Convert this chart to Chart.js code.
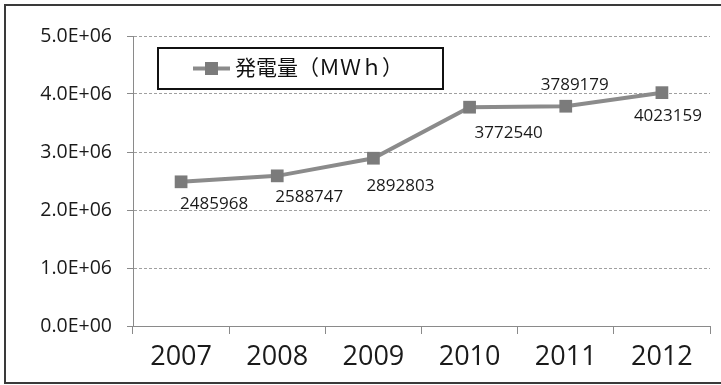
<!DOCTYPE html>
<html>
<head>
<meta charset="utf-8">
<script src="https://cdn.jsdelivr.net/npm/chart.js@4/dist/chart.umd.min.js"></script>
<style>
  html, body { margin: 0; padding: 0; background: #ffffff; }
  #wrap { width: 721px; height: 385px; }
</style>
</head>
<body>
<div id="wrap"><canvas id="c" width="721" height="385"></canvas></div>
<script>
// Annual generation (MWh)
const years = ['2007', '2008', '2009', '2010', '2011', '2012'];
const generation = [2485968, 2588747, 2892803, 3772540, 3789179, 4023159];
const seriesName = '発電量（ＭＷｈ）';
const yTicks = [0, 1000000, 2000000, 3000000, 4000000, 5000000];

const LINE = '#8b8b8b';
const MARK = '#7b7b7b';

// "5.0E+06" style exponent formatting
function sci(v) {
  const parts = Number(v).toExponential(1).split('e');
  const exp = parseInt(parts[1], 10);
  const sign = exp < 0 ? '-' : '+';
  return parts[0] + 'E' + sign + String(Math.abs(exp)).padStart(2, '0');
}

// outer frame of the figure
const framePlugin = {
  id: 'frame',
  beforeDraw(chart) {
    const ctx = chart.ctx;
    ctx.save();
    ctx.fillStyle = '#ffffff';
    ctx.fillRect(0, 0, chart.width, chart.height);
    ctx.strokeStyle = '#3a3a3a';
    ctx.lineWidth = 2;
    ctx.strokeRect(5, 5, chart.width + 20, 378);
    ctx.restore();
  }
};

// value labels next to each point, with a per-point offset
const valueLabels = {
  id: 'valueLabels',
  afterDatasetsDraw(chart, args, opts) {
    const ctx = chart.ctx;
    const meta = chart.getDatasetMeta(0);
    const values = chart.data.datasets[0].data;
    ctx.save();
    ctx.font = '17px "Open Sans", sans-serif';
    ctx.fillStyle = '#1a1a1a';
    ctx.textAlign = 'center';
    ctx.textBaseline = 'middle';
    meta.data.forEach((pt, i) => {
      const off = opts.offsets[i] || [0, 0];
      ctx.fillText(String(values[i]), pt.x + off[0], pt.y + off[1]);
    });
    ctx.restore();
  }
};

// boxed legend inside the plot area
const boxLegend = {
  id: 'boxLegend',
  afterDraw(chart, args, opts) {
    const ctx = chart.ctx;
    const ds = chart.data.datasets[0];
    const { x, y, w, h } = opts;
    ctx.save();
    ctx.fillStyle = '#ffffff';
    ctx.fillRect(x, y, w, h);
    ctx.strokeStyle = '#111111';
    ctx.lineWidth = 2;
    ctx.strokeRect(x, y, w, h);
    const cy = y + h / 2;
    ctx.strokeStyle = LINE;
    ctx.lineWidth = 4;
    ctx.beginPath();
    ctx.moveTo(x + 35, cy);
    ctx.lineTo(x + 72, cy);
    ctx.stroke();
    ctx.fillStyle = MARK;
    ctx.fillRect(x + 47, cy - 6.5, 13, 13);
    ctx.fillStyle = '#111111';
    ctx.font = '21px "DejaVu Serif", "Noto Sans CJK JP", serif';
    ctx.textAlign = 'left';
    ctx.textBaseline = 'middle';
    ctx.fillText(ds.label, x + 77, cy + 1);
    ctx.restore();
  }
};

new Chart(document.getElementById('c'), {
  type: 'line',
  data: {
    labels: years,
    datasets: [{
      label: seriesName,
      data: generation,
      borderColor: LINE,
      borderWidth: 4,
      pointStyle: 'rect',
      pointRadius: 9,
      pointHoverRadius: 9,
      pointBackgroundColor: MARK,
      pointBorderColor: MARK,
      pointBorderWidth: 0,
      tension: 0
    }]
  },
  options: {
    responsive: false,
    devicePixelRatio: 1,
    animation: false,
    layout: { padding: { top: 36, right: 11, left: 0, bottom: 0 } },
    plugins: {
      legend: { display: false },
      tooltip: { enabled: false },
      valueLabels: {
        offsets: [[33, 22], [32, 21], [27, 28], [39, 26], [9, -21], [6, 23]]
      },
      boxLegend: { x: 158, y: 48, w: 285, h: 41 }
    },
    scales: {
      x: {
        offset: true,
        afterFit(s) { s.height = 59; },
        grid: {
          display: true,
          offset: true,
          drawOnChartArea: false,
          drawTicks: true,
          tickLength: 8,
          tickColor: '#8a8a8a',
          tickWidth: 1
        },
        border: { display: true, color: '#8a8a8a', width: 1 },
        ticks: {
          color: '#1a1a1a',
          font: { family: '"Open Sans", sans-serif', size: 27 },
          padding: 7,
          maxRotation: 0
        }
      },
      y: {
        min: 0,
        max: 5000000,
        afterFit(s) { s.width = 133; },
        afterBuildTicks(s) { s.ticks = yTicks.map(v => ({ value: v })); },
        grid: {
          color: '#a0a0a0',
          lineWidth: 1,
          tickLength: 6,
          tickColor: '#8a8a8a'
        },
        border: { display: true, color: '#8a8a8a', width: 1, dash: [3, 2] },
        ticks: {
          color: '#1a1a1a',
          font: { family: '"Open Sans", sans-serif', size: 19.5 },
          padding: 15,
          callback: (v) => sci(v)
        }
      }
    }
  },
  plugins: [framePlugin, valueLabels, boxLegend]
});
</script>
</body>
</html>
